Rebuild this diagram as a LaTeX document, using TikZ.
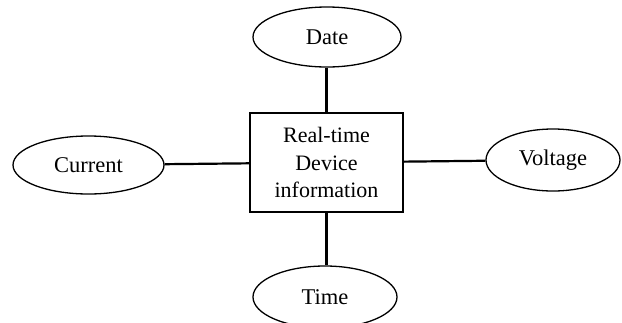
\documentclass[tikz,border=0pt]{standalone}
\usepackage{fontspec}
\setmainfont{Liberation Serif}
\usetikzlibrary{shapes.geometric}
\begin{document}
\begin{tikzpicture}[x=1pt,y=-1pt,
  attr/.style={draw, ellipse, line width=1.3pt, inner sep=0pt, font=\fontsize{22.5}{26}\selectfont},
  entity/.style={draw, rectangle, line width=1.3pt, inner sep=0pt, minimum width=153pt, minimum height=99pt, align=center, font=\fontsize{22}{27.5}\selectfont},
  link/.style={line width=2.2pt}]
\useasboundingbox (0,0) rectangle (622,322);
\node[entity] (box) at (326.5,162.5) {Real-time\\Device\\information};
\node[attr, minimum width=148pt, minimum height=60pt] (date) at (327,37) {Date};
\node[attr, minimum width=151pt, minimum height=58pt] (cur) at (88.5,165) {Current};
\node[attr, minimum width=134pt, minimum height=62pt] (volt) at (553,160) {Voltage};
\node[attr, minimum width=144pt, minimum height=62pt] (time) at (325,297) {Time};
\draw[link] (date.south -| box.north) -- (box.north);
\draw[link] (cur) -- (box);
\draw[link] (box) -- (volt);
\draw[link] (box.south) -- (time.north -| box.south);
\end{tikzpicture}
\end{document}
